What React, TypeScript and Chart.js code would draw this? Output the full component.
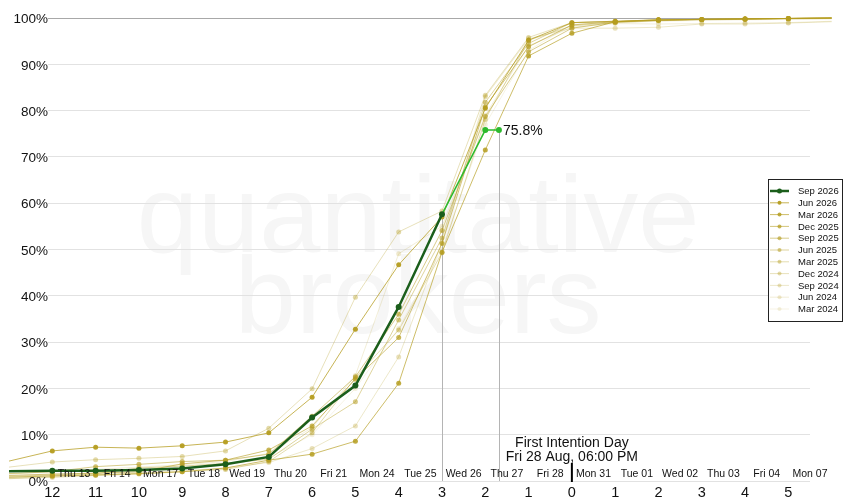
import React, { useEffect, useRef } from "react";
import { Chart, registerables } from "chart.js";

Chart.register(...registerables);

// ---- DATA ----
const dayOffsets = [-13, -12, -11, -10, -9, -8, -7, -6, -5, -4, -3, -2, -1, 0, 1, 2, 3, 4, 5, 6];

const currentX = [-13, -12, -11, -10, -9, -8, -7, -6, -5, -4, -3, -2, -1.685];
const currentValues = [2.1, 2.2, 2.2, 2.4, 2.7, 3.6, 5.2, 13.7, 20.6, 37.6, 57.6, 75.8, 75.8];
const currentName = "Sep 2026";

const seriesNames = ["Jun 2026", "Mar 2026", "Dec 2025", "Sep 2025", "Jun 2025", "Mar 2025", "Dec 2024", "Sep 2024", "Jun 2024", "Mar 2024"];
const jun2026 = [4.3, 6.5, 7.3, 7.1, 7.6, 8.4, 10.4, 18.1, 32.8, 46.7, 57.0, 80.5, 95.2, 99.0, 99.3, 99.6, 99.7, 99.8, 99.9, 100];
const mar2026 = [0.8, 1.1, 1.3, 1.6, 2.0, 2.8, 4.5, 5.8, 8.6, 21.1, 49.4, 71.5, 91.8, 96.7, 99.2, 99.5, 99.7, 99.8, 99.9, 100];
const dec2025 = [1.2, 1.5, 1.7, 2.0, 3.7, 4.5, 6.7, 11.9, 22.0, 31.0, 51.3, 80.8, 93.8, 98.5, 99.2, 99.6, 99.7, 99.8, 99.9, 100];
const sep2025 = [1.6, 2.0, 3.1, 3.6, 4.2, 4.5, 5.8, 14.0, 22.5, 36.0, 54.1, 78.7, 92.7, 97.8, 99.1, 99.5, 99.7, 99.8, 99.9, 100];
const jun2025 = [1.0, 1.3, 1.6, 2.8, 3.2, 3.8, 4.7, 11.2, 17.1, 34.8, 52.5, 81.8, 94.5, 99.0, 99.2, 99.6, 99.7, 99.8, 99.9, 100];
const mar2025 = [0.5, 0.8, 1.2, 1.5, 2.0, 2.5, 4.2, 10.4, 22.3, 32.6, 49.3, 78.1, 95.2, 98.3, 99.0, 99.4, 99.6, 99.7, 99.8, 99.9];
const dec2024 = [3.0, 4.1, 4.6, 4.9, 5.3, 6.5, 11.4, 19.9, 39.7, 53.8, 58.3, 83.3, 95.8, 99.0, 99.3, 99.6, 99.7, 99.8, 99.9, 100];
const sep2024 = [0.6, 1.0, 1.4, 1.8, 2.2, 2.8, 4.0, 7.0, 11.9, 26.8, 51.5, 83.0, 95.5, 97.8, 97.8, 98.0, 98.7, 98.7, 98.9, 99.2];
const jun2024 = [1.5, 2.0, 2.5, 3.0, 3.5, 4.2, 6.0, 11.5, 22.8, 49.1, 55.0, 79.0, 94.0, 98.0, 98.8, 98.7, 98.8, 98.9, 99.0, 99.3];
const mar2024 = [0.8, 1.2, 1.6, 2.2, 2.8, 3.4, 5.0, 10.0, 20.0, 33.0, 50.0, 77.0, 93.0, 98.6, 99.0, 99.3, 99.5, 99.6, 99.7, 99.8];
const seriesValues = [jun2026, mar2026, dec2025, sep2025, jun2025, mar2025, dec2024, sep2024, jun2024, mar2024];
const seriesAlpha = [0.95, 0.85, 0.75, 0.65, 0.55, 0.45, 0.38, 0.3, 0.22, 0.15];

const xTickValues = [-12, -11, -10, -9, -8, -7, -6, -5, -4, -3, -2, -1, 0, 1, 2, 3, 4, 5];
const xTickLabels = ["12", "11", "10", "9", "8", "7", "6", "5", "4", "3", "2", "1", "0", "1", "2", "3", "4", "5"];
const dateLabelPositions = [-11.5, -10.5, -9.5, -8.5, -7.5, -6.5, -5.5, -4.5, -3.5, -2.5, -1.5, -0.5, 0.5, 1.5, 2.5, 3.5, 4.5, 5.5];
const dateLabels = ["Thu 13", "Fri 14", "Mon 17", "Tue 18", "Wed 19", "Thu 20", "Fri 21", "Mon 24", "Tue 25", "Wed 26", "Thu 27", "Fri 28", "Mon 31", "Tue 01", "Wed 02", "Thu 03", "Fri 04", "Mon 07"];
const yTickValues = [0, 10, 20, 30, 40, 50, 60, 70, 80, 90, 100];
const yTickLabels = yTickValues.map((v) => `${v}%`);

const fidLines = ["First Intention Day", "Fri 28 Aug, 06:00 PM"];
const fidPosition = 0;
const dropIndices = [10, 12];
const watermark = ["quantitative", "brokers"];

const DARK = "#1b5e1b";
const BRIGHT = "#2dba2d";
const gold = (a: number) => `rgba(181,157,32,${a})`;
const FONT = '"Liberation Sans", Arial, sans-serif';

export default function App() {
  const ref = useRef<HTMLCanvasElement | null>(null);

  useEffect(() => {
    if (!ref.current) return;

    const datasets: any[] = [
      {
        label: currentName,
        data: currentX.map((x, i) => ({ x, y: currentValues[i] })),
        borderColor: DARK,
        borderWidth: 2.5,
        pointRadius: (c: any) => (c.raw && c.raw.x < -12.5 ? 0 : 3),
        pointBackgroundColor: (c: any) => (c.raw && c.raw.x > -3 ? BRIGHT : DARK),
        pointBorderColor: (c: any) => (c.raw && c.raw.x > -3 ? BRIGHT : DARK),
        pointBorderWidth: 0,
        segment: {
          borderColor: (c: any) => (c.p0.parsed.x >= -3 ? BRIGHT : DARK),
          borderWidth: (c: any) => (c.p0.parsed.x >= -3 ? 1.5 : 2.5),
        },
        clip: false,
        tension: 0,
      },
      ...seriesNames.map((name, si) => ({
        label: name,
        data: dayOffsets.map((x, i) => ({ x, y: seriesValues[si][i] })),
        borderColor: gold(seriesAlpha[si] * 0.8),
        borderWidth: 1,
        pointRadius: (c: any) => (c.raw && (c.raw.x < -12.5 || c.raw.x > 5.5) ? 0 : 2.5),
        pointBackgroundColor: gold(seriesAlpha[si]),
        pointBorderWidth: 0,
        clip: false,
        tension: 0,
      })),
    ];

    const overlay = {
      id: "overlay",
      beforeDraw(chart: any) {
        const ctx = chart.ctx;
        const xs = chart.scales.x;
        const cx = xs.getPixelForValue(-3.55);
        ctx.save();
        ctx.fillStyle = "#f6f6f6";
        ctx.font = `110px ${FONT}`;
        ctx.textAlign = "center";
        ctx.textBaseline = "alphabetic";
        ctx.fillText(watermark[0], cx, 252);
        ctx.fillText(watermark[1], cx, 333);
        ctx.restore();
      },
      beforeDatasetsDraw(chart: any) {
        const ctx = chart.ctx;
        const meta = chart.getDatasetMeta(0);
        const bottom = chart.chartArea.bottom;
        ctx.save();
        ctx.strokeStyle = "#b4b4b4";
        ctx.lineWidth = 1;
        dropIndices.forEach((idx) => {
          const p = meta.data[idx];
          ctx.beginPath();
          ctx.moveTo(Math.round(p.x) + 0.5, p.y);
          ctx.lineTo(Math.round(p.x) + 0.5, bottom);
          ctx.stroke();
        });
        ctx.restore();
      },
      afterDraw(chart: any) {
        const ctx = chart.ctx;
        const xs = chart.scales.x;
        const ys = chart.scales.y;
        const area = chart.chartArea;
        ctx.save();
        ctx.fillStyle = "#111";
        // y tick labels
        ctx.font = `13.5px ${FONT}`;
        ctx.textAlign = "right";
        ctx.textBaseline = "middle";
        yTickValues.forEach((v, i) => {
          ctx.fillText(yTickLabels[i], area.left, ys.getPixelForValue(v) + 1.5);
        });
        // x tick labels
        ctx.font = `14.5px ${FONT}`;
        ctx.textAlign = "center";
        ctx.textBaseline = "alphabetic";
        xTickValues.forEach((v, i) => {
          ctx.fillText(xTickLabels[i], xs.getPixelForValue(v), 497);
        });
        // date labels
        ctx.font = `10.5px ${FONT}`;
        dateLabelPositions.forEach((v, i) => {
          ctx.fillText(dateLabels[i], xs.getPixelForValue(v), 477);
        });
        // first intention day
        const fx = xs.getPixelForValue(fidPosition);
        ctx.font = `14px ${FONT}`;
        ctx.fillText(fidLines[0], fx, 447);
        ctx.fillText(fidLines[1], fx, 461);
        ctx.strokeStyle = "#000";
        ctx.lineWidth = 2;
        ctx.beginPath();
        ctx.moveTo(fx, 463);
        ctx.lineTo(fx, area.bottom + 1);
        ctx.stroke();
        // last value label
        const meta = chart.getDatasetMeta(0);
        const last = meta.data[meta.data.length - 1];
        ctx.textAlign = "left";
        ctx.textBaseline = "middle";
        ctx.font = `14px ${FONT}`;
        ctx.fillText(`${currentValues[currentValues.length - 1].toFixed(1)}%`, last.x + 4, last.y + 1);

        // legend
        const lx = 768, ly = 179, lw = 74, lh = 142;
        ctx.fillStyle = "#fff";
        ctx.fillRect(lx, ly, lw, lh);
        ctx.strokeStyle = "#222";
        ctx.lineWidth = 1;
        ctx.strokeRect(lx + 0.5, ly + 0.5, lw, lh);
        const names = [currentName, ...seriesNames];
        ctx.font = `9.5px ${FONT}`;
        ctx.textAlign = "left";
        ctx.textBaseline = "middle";
        names.forEach((n, i) => {
          const y = 191 + i * 11.8;
          const col = i === 0 ? DARK : gold(seriesAlpha[i - 1] * 0.8);
          const dot = i === 0 ? DARK : gold(seriesAlpha[i - 1]);
          ctx.strokeStyle = col;
          ctx.lineWidth = i === 0 ? 2.5 : 1;
          ctx.beginPath();
          ctx.moveTo(770, y);
          ctx.lineTo(789, y);
          ctx.stroke();
          ctx.fillStyle = dot;
          ctx.beginPath();
          ctx.arc(779.5, y, i === 0 ? 2.5 : 2, 0, Math.PI * 2);
          ctx.fill();
          ctx.fillStyle = "#111";
          ctx.fillText(n, 798, y + 0.5);
        });
        ctx.restore();
      },
    };

    const chart = new Chart(ref.current, {
      type: "line",
      data: { datasets },
      options: {
        animation: false,
        responsive: true,
        maintainAspectRatio: false,
        layout: { padding: { top: 18, right: 40, left: 0, bottom: 0 } },
        plugins: { legend: { display: false }, tooltip: { enabled: false } },
        elements: { line: { tension: 0 } },
        scales: {
          x: {
            type: "linear",
            min: -12.1,
            max: 5.5,
            grid: { display: false, drawTicks: false },
            border: { display: false },
            ticks: { display: false },
            afterFit: (s: any) => {
              s.height = 19;
            },
          },
          y: {
            min: 0,
            max: 100,
            ticks: { display: false, stepSize: 10 },
            border: { display: false },
            grid: {
              drawTicks: false,
              color: (c: any) => (c.tick && c.tick.value === 100 ? "#a8a8a8" : "#e2e2e2"),
              lineWidth: 1,
            },
            afterFit: (s: any) => {
              s.width = 48;
            },
          },
        },
      },
      plugins: [overlay],
    });

    return () => chart.destroy();
  }, []);

  return (
    <div style={{ position: "absolute", left: 0, top: 0, width: 850, height: 500, background: "#fff" }}>
      <canvas ref={ref} />
    </div>
  );
}
